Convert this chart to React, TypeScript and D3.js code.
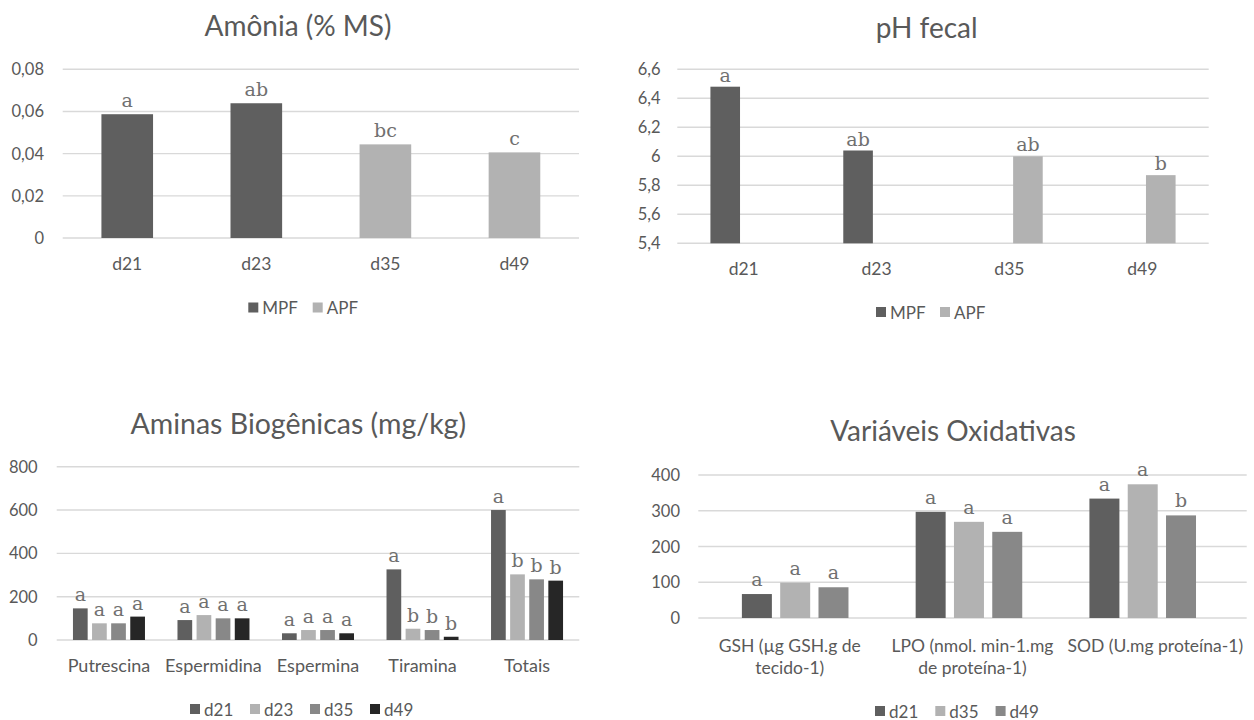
import React from "react";
import * as d3 from "d3";

// ---------- DATA ----------
const amoniaCategories = ["d21", "d23", "d35", "d49"];
const amoniaMPF: (number | null)[] = [0.0587, 0.0639, null, null];
const amoniaAPF: (number | null)[] = [null, null, 0.0444, 0.0406];
const amoniaLettersMPF = ["a", "ab", "", ""];
const amoniaLettersAPF = ["", "", "bc", "c"];
const amoniaTicks = [0, 0.02, 0.04, 0.06, 0.08];

const phCategories = ["d21", "d23", "d35", "d49"];
const phMPF: (number | null)[] = [6.48, 6.04, null, null];
const phAPF: (number | null)[] = [null, null, 6.0, 5.87];
const phLettersMPF = ["a", "ab", "", ""];
const phLettersAPF = ["", "", "ab", "b"];
const phTicks = [5.4, 5.6, 5.8, 6.0, 6.2, 6.4, 6.6];

const aminaCategories = ["Putrescina", "Espermidina", "Espermina", "Tiramina", "Totais"];
const aminaD21 = [146, 92, 31, 326, 600];
const aminaD23 = [77, 115, 46, 52, 303];
const aminaD35 = [77, 100, 46, 46, 280];
const aminaD49 = [108, 100, 31, 15, 274];
const aminaLettersD21 = ["a", "a", "a", "a", "a"];
const aminaLettersD23 = ["a", "a", "a", "b", "b"];
const aminaLettersD35 = ["a", "a", "a", "b", "b"];
const aminaLettersD49 = ["a", "a", "a", "b", "b"];
const aminaTicks = [0, 200, 400, 600, 800];

const oxidCategories = ["GSH (µg GSH.g de tecido-1)", "LPO (nmol. min-1.mg de proteína-1)", "SOD (U.mg proteína-1)"];
const oxidCategoryLines = [["GSH (µg GSH.g de", "tecido-1)"], ["LPO (nmol. min-1.mg", "de proteína-1)"], ["SOD (U.mg proteína-1)"]];
const oxidD21 = [67, 297, 334];
const oxidD35 = [99, 269, 374];
const oxidD49 = [86, 241, 287];
const oxidLettersD21 = ["a", "a", "a"];
const oxidLettersD35 = ["a", "a", "a"];
const oxidLettersD49 = ["a", "a", "b"];
const oxidTicks = [0, 100, 200, 300, 400];

// ---------- STYLE ----------
const SANS = "Lato, 'Open Sans', sans-serif";
const SERIF = "'DejaVu Serif', serif";
const TXT = "#595959";
const GRID = "#d9d9d9";
const LETTER = "#707070";
const C_DARK = "#5f5f5f";
const C_LIGHT = "#b2b2b2";
const C_MID = "#888888";
const C_BLACK = "#262626";

type Series = { name: string; color: string; values: (number | null)[]; letters: string[] };
type Cfg = {
  title: string; titleX: number; titleY: number; titleSize: number;
  categories: string[]; catLines?: string[][]; catSize: number;
  series: Series[];
  yDomain: [number, number]; yBottom: number; yTop: number; ticks: number[];
  tickRight: number;
  gridX: [number, number]; barX?: [number, number];
  centered?: boolean; barFrac?: number;
  groupHalf?: number; pi?: number;
  labelY: number; labelLineH?: number;
  letterGap: number;
  legendX: number; legendY: number; legendStep: number;
};

const fmt = (d: number) => String(+d.toFixed(4)).replace(".", ",");

function Panel({ cfg }: { cfg: Cfg }) {
  const y = d3.scaleLinear().domain(cfg.yDomain).range([cfg.yBottom, cfg.yTop]);
  const xLab = d3.scaleBand<string>().domain(cfg.categories).range(cfg.gridX);
  const xBar = d3.scaleBand<string>().domain(cfg.categories).range(cfg.barX ?? cfg.gridX);
  const half = cfg.groupHalf ?? 0;
  const inner = d3.scaleBand<string>().domain(cfg.series.map((s) => s.name)).range([-half, half])
    .paddingInner(cfg.pi ?? 0).paddingOuter((cfg.pi ?? 0) / 2);

  const bars: React.ReactNode[] = [];
  const letters: React.ReactNode[] = [];
  cfg.series.forEach((s) => {
    cfg.categories.forEach((c, i) => {
      const v = s.values[i];
      if (v == null) return;
      const cx = xBar(c)! + xBar.bandwidth() / 2;
      let x0: number, w: number;
      if (cfg.centered) {
        w = xBar.bandwidth() * (cfg.barFrac ?? 0.4);
        x0 = cx - w / 2;
      } else {
        w = inner.bandwidth();
        x0 = cx + inner(s.name)!;
      }
      const yt = y(v);
      bars.push(<rect key={s.name + c} x={x0} y={yt} width={w} height={cfg.yBottom - yt} fill={s.color} />);
      if (s.letters[i]) {
        letters.push(
          <text key={"l" + s.name + c} x={x0 + w / 2} y={yt - cfg.letterGap} textAnchor="middle"
            fontFamily={SERIF} fontSize={19} fill={LETTER}>{s.letters[i]}</text>
        );
      }
    });
  });

  return (
    <g>
      <text x={cfg.titleX} y={cfg.titleY} textAnchor="middle" dominantBaseline="central"
        fontFamily={SANS} fontSize={cfg.titleSize} fill={TXT}>{cfg.title}</text>
      {cfg.ticks.map((t) => (
        <g key={t}>
          <line x1={cfg.gridX[0]} x2={cfg.gridX[1]} y1={y(t)} y2={y(t)} stroke={GRID} strokeWidth={1.4} />
          <text x={cfg.tickRight} y={y(t)} textAnchor="end" dominantBaseline="central"
            fontFamily={SANS} fontSize={16.5} fill={TXT}>{fmt(t)}</text>
        </g>
      ))}
      {bars}
      {letters}
      {cfg.categories.map((c, i) => {
        const lines = cfg.catLines ? cfg.catLines[i] : [c];
        return (
          <text key={"x" + c} x={xLab(c)! + xLab.bandwidth() / 2} y={cfg.labelY} textAnchor="middle"
            dominantBaseline="central" fontFamily={SANS} fontSize={cfg.catSize} fill={TXT}>
            {lines.map((ln, k) => (
              <tspan key={k} x={xLab(c)! + xLab.bandwidth() / 2} dy={k === 0 ? 0 : cfg.labelLineH}>{ln}</tspan>
            ))}
          </text>
        );
      })}
      {cfg.series.map((s, i) => (
        <g key={"lg" + s.name} transform={`translate(${cfg.legendX + i * cfg.legendStep},${cfg.legendY})`}>
          <rect x={0} y={-5} width={10} height={10} fill={s.color} />
          <text x={14} y={0} dominantBaseline="central" fontFamily={SANS} fontSize={17} fill={TXT}>{s.name}</text>
        </g>
      ))}
    </g>
  );
}

const panels: Cfg[] = [
  {
    title: "Amônia (% MS)", titleX: 298, titleY: 25, titleSize: 28,
    categories: amoniaCategories, catSize: 17.5,
    series: [
      { name: "MPF", color: C_DARK, values: amoniaMPF, letters: amoniaLettersMPF },
      { name: "APF", color: C_LIGHT, values: amoniaAPF, letters: amoniaLettersAPF },
    ],
    yDomain: [0, 0.08], yBottom: 238, yTop: 69.3, ticks: amoniaTicks, tickRight: 44,
    gridX: [62.7, 579], centered: true, barFrac: 0.4,
    labelY: 263.3, letterGap: 7,
    legendX: 248.3, legendY: 307.5, legendStep: 64.4,
  },
  {
    title: "pH fecal", titleX: 926.7, titleY: 26.7, titleSize: 28,
    categories: phCategories, catSize: 17.5,
    series: [
      { name: "MPF", color: C_DARK, values: phMPF, letters: phLettersMPF },
      { name: "APF", color: C_LIGHT, values: phAPF, letters: phLettersAPF },
    ],
    yDomain: [5.4, 6.6], yBottom: 243.3, yTop: 69.3, ticks: phTicks, tickRight: 660.7,
    gridX: [677.3, 1208.7], groupHalf: 37, pi: 0.2,
    labelY: 267.7, letterGap: 5,
    legendX: 876, legendY: 312, legendStep: 64,
  },
  {
    title: "Aminas Biogênicas (mg/kg)", titleX: 298.3, titleY: 423.3, titleSize: 28.5,
    categories: aminaCategories, catSize: 18,
    series: [
      { name: "d21", color: C_DARK, values: aminaD21, letters: aminaLettersD21 },
      { name: "d23", color: C_LIGHT, values: aminaD23, letters: aminaLettersD23 },
      { name: "d35", color: C_MID, values: aminaD35, letters: aminaLettersD35 },
      { name: "d49", color: C_BLACK, values: aminaD49, letters: aminaLettersD49 },
    ],
    yDomain: [0, 800], yBottom: 640, yTop: 466.7, ticks: aminaTicks, tickRight: 37.7,
    gridX: [56.7, 579.3], groupHalf: 38.2, pi: 0.23,
    labelY: 665, letterGap: 7,
    legendX: 190, legendY: 709, legendStep: 60,
  },
  {
    title: "Variáveis Oxidativas", titleX: 953, titleY: 430, titleSize: 28,
    categories: oxidCategories, catLines: oxidCategoryLines, catSize: 17.5,
    series: [
      { name: "d21", color: C_DARK, values: oxidD21, letters: oxidLettersD21 },
      { name: "d35", color: C_LIGHT, values: oxidD35, letters: oxidLettersD35 },
      { name: "d49", color: C_MID, values: oxidD49, letters: oxidLettersD49 },
    ],
    yDomain: [0, 400], yBottom: 618, yTop: 475, ticks: oxidTicks, tickRight: 680,
    gridX: [698.3, 1246.7], barX: [708.3, 1229.6], groupHalf: 57.45, pi: 0.217,
    labelY: 645, labelLineH: 21.7, letterGap: 8,
    legendX: 875, legendY: 711, legendStep: 60.3,
  },
];

export default function App() {
  return (
    <div style={{ position: "absolute", left: 0, top: 0, width: 1254, height: 720, background: "#fff" }}>
      <svg width={1254} height={720} style={{ display: "block" }}>
        <rect width={1254} height={720} fill="#fff" />
        {panels.map((p) => (
          <Panel key={p.title} cfg={p} />
        ))}
      </svg>
    </div>
  );
}
